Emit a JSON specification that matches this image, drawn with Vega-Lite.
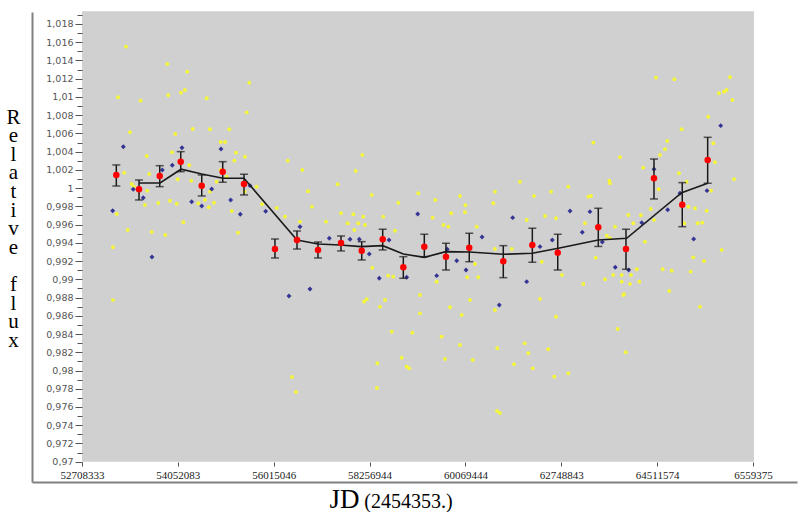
{
  "$schema": "https://vega.github.io/schema/vega-lite/v6.json",
  "width": 765,
  "height": 470,
  "autosize": {"type": "none"},
  "padding": {"left": 32, "top": 12, "right": 1, "bottom": 30},
  "background": "white",
  "config": {"view": {"stroke": null}},
  "datasets": {
    "panel": [{"t0": 0, "t1": 7.01, "f0": 0.97, "f1": 1.0194}],
    "yellow": [
      {"t":0.459,"flux":1.01551},{"t":0.890,"flux":1.01361},{"t":1.098,"flux":1.01277},{"t":1.745,"flux":1.01156},
      {"t":0.376,"flux":1.00996},{"t":0.612,"flux":1.00959},{"t":0.900,"flux":1.01018},{"t":1.033,"flux":1.01046},
      {"t":1.074,"flux":1.01076},{"t":1.301,"flux":1.00985},{"t":1.718,"flux":1.00831},{"t":0.501,"flux":1.00612},
      {"t":0.973,"flux":1.00594},{"t":1.155,"flux":1.00648},{"t":1.335,"flux":1.00645},{"t":1.537,"flux":1.00645},
      {"t":1.447,"flux":1.00506},{"t":1.492,"flux":1.00506},{"t":1.607,"flux":1.00389},{"t":1.700,"flux":1.00345},
      {"t":1.589,"flux":1.00301},{"t":0.675,"flux":1.00352},{"t":0.939,"flux":1.00393},{"t":2.146,"flux":1.00301},
      {"t":2.298,"flux":1.00199},{"t":2.924,"flux":1.00363},{"t":2.855,"flux":1.00188},{"t":2.667,"flux":1.00042},
      {"t":0.441,"flux":1.00169},{"t":0.702,"flux":1.00155},{"t":1.119,"flux":1.0025},{"t":0.998,"flux":1.00097},
      {"t":1.140,"flux":1.00081},{"t":1.405,"flux":1.0007},{"t":1.335,"flux":0.99961},{"t":1.283,"flux":0.9987},
      {"t":1.377,"flux":0.9984},{"t":1.322,"flux":0.9979},{"t":1.213,"flux":0.99834},{"t":0.918,"flux":0.99862},
      {"t":0.988,"flux":0.99829},{"t":0.796,"flux":0.99837},{"t":0.657,"flux":0.99815},{"t":0.518,"flux":1.00045},
      {"t":0.542,"flux":1.00016},{"t":0.681,"flux":0.99972},{"t":0.362,"flux":0.99716},{"t":0.477,"flux":0.99541},
      {"t":0.727,"flux":0.99519},{"t":0.869,"flux":0.99486},{"t":1.057,"flux":0.99625},{"t":1.627,"flux":0.99511},
      {"t":1.562,"flux":0.99749},{"t":1.697,"flux":0.99961},{"t":1.822,"flux":1.00016},{"t":1.878,"flux":0.99823},
      {"t":2.031,"flux":0.99782},{"t":2.118,"flux":0.99687},{"t":2.274,"flux":0.99632},{"t":2.399,"flux":0.99796},
      {"t":2.358,"flux":0.99965},{"t":2.545,"flux":0.99632},{"t":2.702,"flux":0.99724},{"t":2.830,"flux":0.99713},
      {"t":2.772,"flux":0.99614},{"t":2.882,"flux":0.99614},{"t":2.934,"flux":0.99687},{"t":2.841,"flux":0.99541},
      {"t":1.510,"flux":1.00125},{"t":1.447,"flux":1.00199},
      {"t":3.022,"flux":0.99925},{"t":3.508,"flux":0.99943},{"t":3.300,"flux":0.9984},{"t":3.686,"flux":0.9987},
      {"t":3.943,"flux":0.99914},{"t":3.999,"flux":0.99812},{"t":4.291,"flux":0.99834},{"t":4.308,"flux":0.99961},
      {"t":4.569,"flux":1.0007},{"t":4.715,"flux":0.99914},{"t":4.893,"flux":0.99961},{"t":5.073,"flux":1.00016},
      {"t":5.310,"flux":0.99914},{"t":5.508,"flux":1.00053},{"t":2.952,"flux":0.99596},{"t":3.143,"flux":0.99687},
      {"t":3.658,"flux":0.99676},{"t":3.852,"flux":0.99724},{"t":3.995,"flux":0.99735},{"t":3.769,"flux":0.99596},
      {"t":3.821,"flux":0.99577},{"t":3.265,"flux":0.99533},{"t":4.117,"flux":0.99577},{"t":4.639,"flux":0.9965},
      {"t":4.830,"flux":0.99694},{"t":4.945,"flux":0.99669},{"t":5.699,"flux":0.99705},{"t":5.560,"flux":0.99577},
      {"t":5.751,"flux":0.99614},{"t":5.508,"flux":0.9945},{"t":3.028,"flux":0.99127},{"t":3.195,"flux":0.9904},
      {"t":3.247,"flux":0.99029},{"t":3.700,"flux":0.98974},{"t":4.019,"flux":0.99022},{"t":4.134,"flux":0.99022},
      {"t":4.100,"flux":0.99168},{"t":4.308,"flux":0.99332},{"t":4.483,"flux":0.99332},{"t":4.796,"flux":0.99193},
      {"t":5.007,"flux":0.99047},{"t":5.230,"flux":0.98949},{"t":5.359,"flux":0.99237},{"t":5.456,"flux":0.99},
      {"t":5.630,"flux":0.99047},{"t":5.787,"flux":0.9911},{"t":5.717,"flux":0.98949},{"t":2.970,"flux":0.98781},
      {"t":2.942,"flux":0.98755},{"t":3.161,"flux":0.98773},{"t":3.109,"flux":0.987},{"t":3.526,"flux":0.98828},
      {"t":3.526,"flux":0.98627},{"t":3.961,"flux":0.98609},{"t":4.048,"flux":0.98773},{"t":3.839,"flux":0.98693},
      {"t":4.308,"flux":0.98664},{"t":4.778,"flux":0.98784},{"t":4.945,"flux":0.9859},{"t":5.654,"flux":0.98836},
      {"t":5.588,"flux":0.98455},{"t":3.231,"flux":0.98426},{"t":3.446,"flux":0.98415},{"t":3.752,"flux":0.98371},
      {"t":3.943,"flux":0.9828},{"t":4.618,"flux":0.98298},{"t":4.656,"flux":0.98189},{"t":4.864,"flux":0.98233},
      {"t":4.332,"flux":0.98244},{"t":5.672,"flux":0.982},{"t":3.081,"flux":0.98079},{"t":3.335,"flux":0.9814},
      {"t":3.387,"flux":0.98042},{"t":3.414,"flux":0.98024},{"t":3.787,"flux":0.98126},{"t":4.076,"flux":0.98115},
      {"t":4.507,"flux":0.98068},{"t":4.702,"flux":0.98024},{"t":5.073,"flux":0.97969},{"t":4.927,"flux":0.97932},
      {"t":5.988,"flux":1.01211},{"t":6.179,"flux":1.01193},{"t":6.760,"flux":1.01215},{"t":6.645,"flux":1.0104},
      {"t":6.697,"flux":1.01057},{"t":6.725,"flux":1.01076},{"t":6.784,"flux":1.00966},{"t":6.533,"flux":1.00783},
      {"t":6.256,"flux":1.00645},{"t":6.586,"flux":1.00492},{"t":6.106,"flux":1.00517},{"t":6.082,"flux":1.00426},
      {"t":6.030,"flux":1.00363},{"t":5.855,"flux":1.00224},{"t":5.612,"flux":1.00338},{"t":5.334,"flux":1.00498},
      {"t":5.501,"flux":1.00081},{"t":6.228,"flux":1.00163},{"t":6.308,"flux":1.0007},{"t":6.603,"flux":1.00283},
      {"t":6.802,"flux":1.00097},{"t":6.016,"flux":0.99987},{"t":5.933,"flux":0.99771},{"t":5.967,"flux":0.9965},
      {"t":5.831,"flux":0.99702},{"t":5.282,"flux":0.99906},{"t":5.247,"flux":0.99614},{"t":5.474,"flux":0.99478},
      {"t":5.873,"flux":0.99412},{"t":6.395,"flux":0.99779},{"t":6.325,"flux":0.99796},{"t":6.423,"flux":0.99614},
      {"t":6.471,"flux":0.99621},{"t":6.517,"flux":0.99752},{"t":6.562,"flux":0.99972},{"t":6.283,"flux":0.99614},
      {"t":5.630,"flux":0.98974},{"t":5.542,"flux":0.99047},{"t":5.814,"flux":0.98974},{"t":5.727,"flux":0.99047},
      {"t":6.058,"flux":0.9911},{"t":6.152,"flux":0.99094},{"t":6.350,"flux":0.99084},{"t":6.377,"flux":0.99241},
      {"t":6.489,"flux":0.99201},{"t":6.673,"flux":0.99322},{"t":6.127,"flux":0.98872},{"t":5.647,"flux":0.98828},
      {"t":6.447,"flux":0.987},{"t":0.323,"flux":0.99352},{"t":0.323,"flux":0.98772},{"t":2.191,"flux":0.97929},
      {"t":2.232,"flux":0.97764},{"t":4.329,"flux":0.97556},{"t":4.360,"flux":0.97534},{"t":3.077,"flux":0.97808}
    ],
    "blue": [
      {"t":0.431,"flux":1.00454},{"t":0.320,"flux":0.99752},{"t":0.535,"flux":0.99987},{"t":0.639,"flux":0.99895},
      {"t":0.838,"flux":1.00199},{"t":0.942,"flux":1.0025},{"t":1.043,"flux":1.00443},{"t":1.144,"flux":0.99851},
      {"t":1.249,"flux":0.99804},{"t":1.353,"flux":0.9999},{"t":1.450,"flux":1.00429},{"t":1.551,"flux":0.9987},
      {"t":1.651,"flux":0.99713},{"t":1.753,"flux":1.00027},{"t":1.916,"flux":0.99746},{"t":2.274,"flux":0.99577},
      {"t":2.580,"flux":0.9945},{"t":2.796,"flux":0.99439},{"t":2.893,"flux":0.99439},{"t":0.730,"flux":0.99245},
      {"t":3.502,"flux":0.99716},{"t":2.997,"flux":0.99278},{"t":3.101,"flux":0.99011},{"t":3.203,"flux":0.99431},
      {"t":3.387,"flux":0.99022},{"t":3.700,"flux":0.9904},{"t":3.811,"flux":0.99329},{"t":3.909,"flux":0.99204},
      {"t":4.006,"flux":0.99102},{"t":4.173,"flux":0.99464},{"t":4.353,"flux":0.98718},{"t":4.493,"flux":0.99676},
      {"t":4.639,"flux":0.98974},{"t":4.778,"flux":0.99358},{"t":4.906,"flux":0.99431},{"t":5.091,"flux":0.99749},
      {"t":5.299,"flux":0.99742},{"t":5.219,"flux":0.99516},{"t":5.428,"flux":0.99409},{"t":5.563,"flux":0.99132},
      {"t":5.703,"flux":0.99102},{"t":5.839,"flux":0.99621},{"t":5.967,"flux":1.00206},{"t":6.110,"flux":0.99763},
      {"t":6.238,"flux":0.99943},{"t":6.381,"flux":0.99442},{"t":6.520,"flux":0.99972},{"t":6.663,"flux":1.00685},
      {"t":2.159,"flux":0.98817},{"t":2.378,"flux":0.98894}
    ],
    "binned": [
      {"t":0.358,"flux":1.00144,"lo":1.00023,"hi":1.00254},
      {"t":0.595,"flux":0.99987,"lo":0.9987,"hi":1.00089},
      {"t":0.811,"flux":1.00133,"lo":1.00016,"hi":1.00246},
      {"t":1.030,"flux":1.0029,"lo":1.0018,"hi":1.004},
      {"t":1.249,"flux":1.00027,"lo":0.99914,"hi":1.00144},
      {"t":1.468,"flux":1.0018,"lo":1.00064,"hi":1.0029},
      {"t":1.690,"flux":1.00045,"lo":0.99925,"hi":1.00152},
      {"t":2.013,"flux":0.99332,"lo":0.99234,"hi":0.99442},
      {"t":2.243,"flux":0.99431,"lo":0.99332,"hi":0.9953},
      {"t":2.462,"flux":0.99322,"lo":0.99234,"hi":0.99409},
      {"t":2.702,"flux":0.99398,"lo":0.99311,"hi":0.99475},
      {"t":2.918,"flux":0.99314,"lo":0.99212,"hi":0.99413},
      {"t":3.137,"flux":0.99439,"lo":0.99322,"hi":0.99549},
      {"t":3.352,"flux":0.99132,"lo":0.99011,"hi":0.99248},
      {"t":3.571,"flux":0.99358,"lo":0.99248,"hi":0.99494},
      {"t":3.797,"flux":0.99248,"lo":0.99102,"hi":0.99395},
      {"t":4.040,"flux":0.99347,"lo":0.99193,"hi":0.99505},
      {"t":4.395,"flux":0.99198,"lo":0.99018,"hi":0.99369},
      {"t":4.698,"flux":0.99376,"lo":0.99187,"hi":0.9956},
      {"t":4.963,"flux":0.99292,"lo":0.99102,"hi":0.99494},
      {"t":5.386,"flux":0.9957,"lo":0.9936,"hi":0.99779},
      {"t":5.675,"flux":0.99332,"lo":0.9911,"hi":0.99549},
      {"t":5.967,"flux":1.00108,"lo":0.99881,"hi":1.00319},
      {"t":6.262,"flux":0.99818,"lo":0.99577,"hi":1.0006},
      {"t":6.527,"flux":1.00308,"lo":1.00053,"hi":1.00557}
    ],
    "trend": [
      {"t":0.595,"flux":1.00056},{"t":0.814,"flux":1.00056},{"t":1.033,"flux":1.00207},{"t":1.249,"flux":1.00155},
      {"t":1.471,"flux":1.00108},{"t":1.690,"flux":1.00108},{"t":2.243,"flux":0.99431},{"t":2.462,"flux":0.99387},
      {"t":2.692,"flux":0.99376},{"t":2.911,"flux":0.99358},{"t":3.137,"flux":0.99369},{"t":3.352,"flux":0.99278},
      {"t":3.571,"flux":0.99241},{"t":3.797,"flux":0.99303},{"t":4.040,"flux":0.993},{"t":4.395,"flux":0.99274},
      {"t":4.698,"flux":0.99285},{"t":4.969,"flux":0.9934},{"t":5.386,"flux":0.99431},{"t":5.682,"flux":0.9945},
      {"t":6.256,"flux":0.9995},{"t":6.527,"flux":1.00053}
    ]
  },
  "resolve": {"axis": {"x": "independent", "y": "independent"}},
  "layer": [
    {
      "data": {"name": "panel"},
      "mark": {"type": "rect", "fill": "#d0d0d0"},
      "encoding": {
        "x": {"field": "t0", "type": "quantitative",
          "scale": {"domain": [-0.5216, 7.459], "nice": false, "zero": false},
          "axis": {"orient": "bottom", "offset": 0, "domain": true, "domainColor": "#808080", "domainWidth": 2,
            "ticks": false, "labels": false, "grid": false, "zindex": 1,
            "title": "JD", "titleFont": "Liberation Serif", "titleFontSize": 27, "titleFontWeight": "normal",
            "titleColor": "#000", "titleX": 312, "titleY": 25, "titleAlign": "center", "titleBaseline": "alphabetic", "titleAnchor": null}},
        "x2": {"field": "t1"},
        "y": {"field": "f0", "type": "quantitative",
          "scale": {"domain": [0.967774, 1.01931], "nice": false, "zero": false},
          "axis": {"orient": "left", "offset": 0, "domain": true, "domainColor": "#808080", "domainWidth": 2,
            "ticks": false, "labels": false, "grid": false, "zindex": 1,
            "title": ["R", "e", "l", "a", "t", "i", "v", "e", "\u200b", "f", "l", "u", "x"],
            "titleAngle": 0, "titleFont": "Liberation Serif", "titleFontSize": 21, "titleFontWeight": "normal",
            "titleColor": "#000", "titleLineHeight": 18.6, "titleX": -19, "titleY": 94,
            "titleAlign": "center", "titleBaseline": "top", "titleAnchor": null}},
        "y2": {"field": "f1"}
      }
    },
    {
      "data": {"name": "yellow"},
      "mark": {"type": "circle", "size": 15, "color": "#f7f732", "opacity": 0.95},
      "encoding": {
        "x": {"field": "t", "type": "quantitative",
          "axis": {"orient": "bottom", "offset": -20, "domain": false, "ticks": true, "tickSize": 4, "tickColor": "#555",
            "values": [0, 1, 2, 3, 4, 5, 6, 7], "grid": false, "zindex": 1,
            "title": "(2454353.)", "titleFont": "Liberation Serif", "titleFontSize": 20, "titleFontWeight": "normal",
            "titleColor": "#000", "titleX": 376, "titleY": 45, "titleAlign": "center", "titleBaseline": "alphabetic", "titleAnchor": null,
            "labelExpr": "['52708333','54052083','56015046','58256944','60069444','62748843','64511574','6559375'][datum.value]",
            "labelFont": "Liberation Serif", "labelFontSize": 11, "labelColor": "#222", "labelPadding": 3}},
        "y": {"field": "flux", "type": "quantitative",
          "axis": {"orient": "left", "offset": -50, "domain": false, "ticks": true, "tickSize": 7, "tickColor": "#555",
            "values": [0.97, 0.972, 0.974, 0.976, 0.978, 0.98, 0.982, 0.984, 0.986, 0.988, 0.99, 0.992, 0.994, 0.996, 0.998, 1, 1.002, 1.004, 1.006, 1.008, 1.01, 1.012, 1.014, 1.016, 1.018],
            "grid": false, "zindex": 1, "title": null,
            "labelExpr": "replace(format(datum.value, '.3~f'), '.', ',')",
            "labelFont": "DejaVu Sans", "labelFontSize": 9.5, "labelColor": "#555", "labelPadding": 2}}
      }
    },
    {
      "data": {"name": "blue"},
      "mark": {"type": "point", "shape": "diamond", "filled": true, "size": 24, "color": "#343494", "opacity": 1},
      "encoding": {
        "x": {"field": "t", "type": "quantitative", "axis": null},
        "y": {"field": "flux", "type": "quantitative",
          "axis": {"orient": "left", "offset": -50, "domain": false, "ticks": true, "tickSize": 5, "tickColor": "#555",
            "values": [0.971, 0.973, 0.975, 0.977, 0.979, 0.981, 0.983, 0.985, 0.987, 0.989, 0.991, 0.993, 0.995, 0.997, 0.999, 1.001, 1.003, 1.005, 1.007, 1.009, 1.011, 1.013, 1.015, 1.017, 1.019],
            "labels": false, "grid": false, "zindex": 1, "title": null}}
      }
    },
    {
      "data": {"name": "trend"},
      "mark": {"type": "line", "color": "#1a1a1a", "strokeWidth": 1.6},
      "encoding": {
        "x": {"field": "t", "type": "quantitative", "axis": null},
        "y": {"field": "flux", "type": "quantitative", "axis": null}
      }
    },
    {
      "data": {"name": "binned"},
      "mark": {"type": "errorbar", "ticks": true, "color": "#1a1a1a", "thickness": 1.5, "size": 8},
      "encoding": {
        "x": {"field": "t", "type": "quantitative", "axis": null},
        "y": {"field": "lo", "type": "quantitative", "axis": null},
        "y2": {"field": "hi"}
      }
    },
    {
      "data": {"name": "binned"},
      "mark": {"type": "circle", "size": 42, "color": "#ff0000", "opacity": 1},
      "encoding": {
        "x": {"field": "t", "type": "quantitative", "axis": null},
        "y": {"field": "flux", "type": "quantitative", "axis": null}
      }
    }
  ]
}
